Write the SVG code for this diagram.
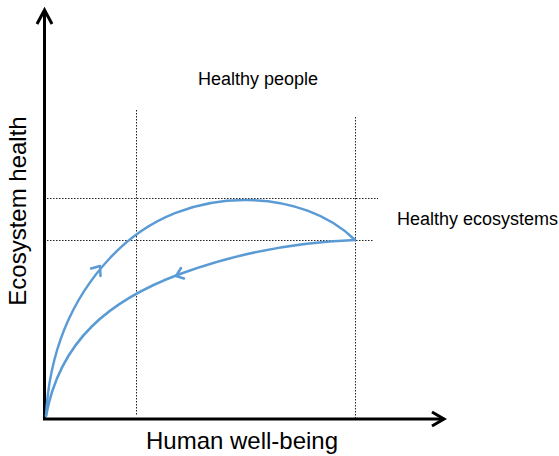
<svg xmlns="http://www.w3.org/2000/svg" width="559" height="456" viewBox="0 0 559 456">
<style>
.axis{stroke:#000;stroke-width:3;fill:none;stroke-linecap:butt}
.dot{stroke:#222;stroke-width:1;stroke-dasharray:1.5 1.5;fill:none}
.curve{stroke:#5B9BD5;stroke-width:2.5;fill:none;stroke-linecap:round;stroke-linejoin:round}
.lbl{font-family:"Liberation Sans",Arial,sans-serif;fill:#000}
</style>
<rect width="559" height="456" fill="#fff"/>
<g id="guides">
<line class="dot" x1="136.5" y1="110" x2="136.5" y2="416"/>
<line class="dot" x1="355.5" y1="117" x2="355.5" y2="418"/>
<line class="dot" x1="47" y1="198.5" x2="378" y2="198.5"/>
<line class="dot" x1="47" y1="240.5" x2="374" y2="240.5"/>
</g>
<g id="axes">
<polyline class="axis" points="44.5,10 44.5,419 444,419"/>
<polyline class="axis" points="37,24 44.5,10 52,24"/>
<polyline class="axis" points="432,412 444,419 432,426"/>
</g>
<g id="connectors">
<path class="curve" d="M46,416 C50,340 80,290 110,258 C150,215 200,200 245,200 C290,200 330,215 355,240"/>
<path class="curve" d="M46,416 C60,340 110,300 180,274 C240,252 300,242 355,240"/>
<polyline class="curve" points="91,268.5 100,266 100.5,276"/>
<polyline class="curve" points="181,268 176,276 184,278.5"/>
</g>
<g id="healthy-people"><text class="lbl" x="258" y="85" font-size="18" text-anchor="middle">Healthy people</text></g>
<g id="healthy-ecosystems"><text class="lbl" x="397" y="225" font-size="18">Healthy ecosystems</text></g>
<g id="x-label"><text class="lbl" x="242" y="449" font-size="24" text-anchor="middle">Human well-being</text></g>
<g id="y-label"><text class="lbl" transform="translate(26,211) rotate(-90)" x="0" y="0" font-size="24" text-anchor="middle">Ecosystem health</text></g>
</svg>
